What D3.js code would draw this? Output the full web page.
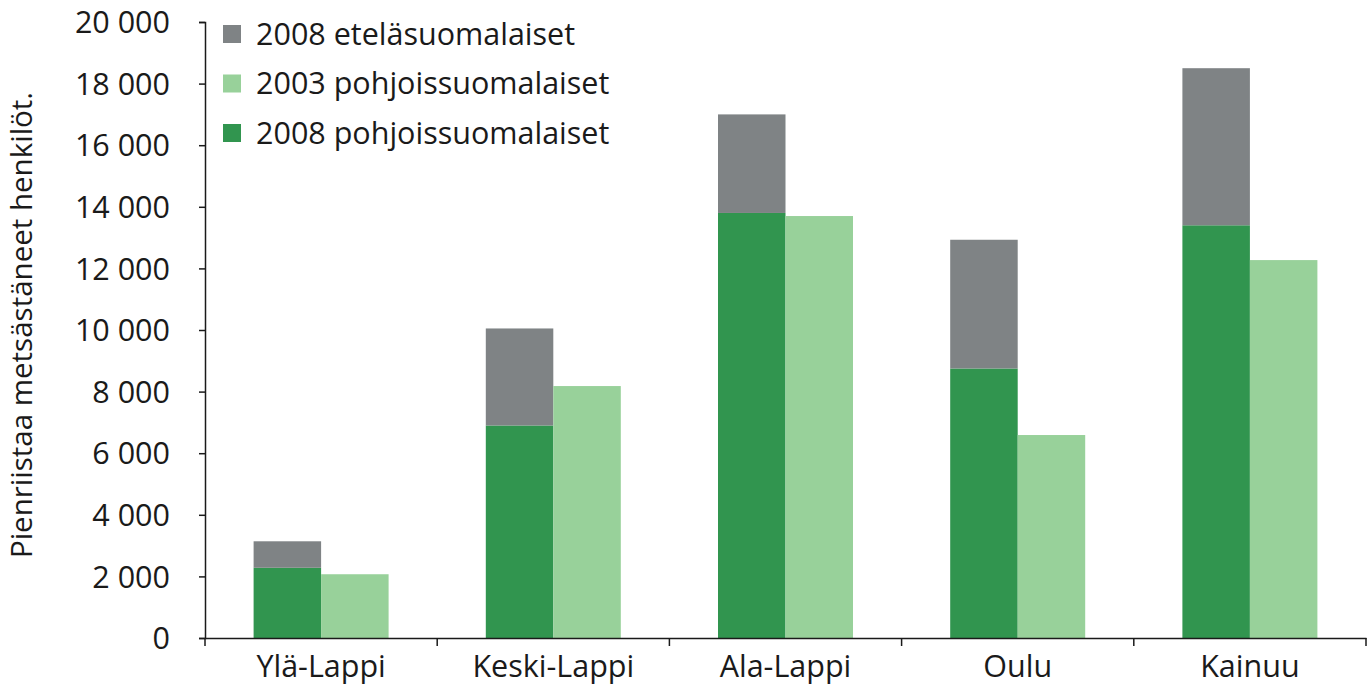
<!DOCTYPE html>
<html><head><meta charset="utf-8">
<script src="https://cdn.jsdelivr.net/npm/d3@7"></script>
<style>body{margin:0;background:#fff}svg text{font-family:"Open Sans",sans-serif;fill:#1a1a1a}</style>
</head><body>
<svg id="c" width="1369" height="687"></svg>
<script>
const categories = ["Ylä-Lappi","Keski-Lappi","Ala-Lappi","Oulu","Kainuu"];
const north2008 = [2280, 6900, 13800, 8750, 13400];
const south2008 = [860, 3150, 3200, 4180, 5100];
const north2003 = [2070, 8180, 13700, 6590, 12270];
const yTicks = [0,2000,4000,6000,8000,10000,12000,14000,16000,18000,20000];
const seriesNames = ["2008 eteläsuomalaiset","2003 pohjoissuomalaiset","2008 pohjoissuomalaiset"];
const colors = {south:"#7f8385", n2003:"#98d19a", n2008:"#31954f"};
const yTitle = "Pienriistaa metsästäneet henkilöt.";

const svg = d3.select("#c");
const L=205, R=1366, T=22, B=638;
const x = d3.scaleBand().domain(categories).range([L,R]);
const y = d3.scaleLinear().domain([0,20000]).range([B,T]);
const bw = 67.5;
const fmt = v => d3.format(",")(v).replace(/,/g," ");

const g = svg.append("g");
categories.forEach((c,i)=>{
  const cx = x(c)+x.bandwidth()/2;
  g.append("rect").attr("x",cx-bw).attr("width",bw).attr("y",y(north2008[i])).attr("height",B-y(north2008[i])).attr("fill",colors.n2008);
  g.append("rect").attr("x",cx-bw).attr("width",bw).attr("y",y(north2008[i]+south2008[i])).attr("height",y(north2008[i])-y(north2008[i]+south2008[i])).attr("fill",colors.south);
  g.append("rect").attr("x",cx).attr("width",bw).attr("y",y(north2003[i])).attr("height",B-y(north2003[i])).attr("fill",colors.n2003);
});

// y axis
const ya = svg.append("g").attr("transform",`translate(${L},0)`)
  .call(d3.axisLeft(y).tickValues(yTicks).tickFormat(fmt).tickSize(6).tickSizeOuter(6));
ya.selectAll("path,line").attr("stroke","#1a1a1a").attr("stroke-width",1.5);
ya.selectAll("text").attr("font-size",30.5).attr("x",-35).attr("dy","0.35em").style("font-family","'Open Sans',sans-serif").attr("fill","#1a1a1a");

// x axis
const xa = svg.append("g").attr("transform",`translate(0,${B})`)
  .call(d3.axisBottom(x).tickSize(0).tickSizeOuter(0));
xa.select("path").attr("stroke","#1a1a1a").attr("stroke-width",1.5);
xa.selectAll("text").attr("font-size",30.5).attr("y",28).attr("dy","0.35em").style("font-family","'Open Sans',sans-serif").attr("fill","#1a1a1a");
const bounds = categories.map(c=>x(c)).concat([R]);
svg.append("g").selectAll("line").data(bounds).join("line")
  .attr("x1",d=>d).attr("x2",d=>d).attr("y1",B).attr("y2",B+8).attr("stroke","#1a1a1a").attr("stroke-width",1.5);

// y title
svg.append("text").attr("transform","translate(22,325) rotate(-90)").attr("text-anchor","middle")
  .attr("font-size",29.5).attr("dy","0.35em").text(yTitle);

// legend
const leg = [{n:seriesNames[0],c:colors.south},{n:seriesNames[1],c:colors.n2003},{n:seriesNames[2],c:colors.n2008}];
leg.forEach((d,i)=>{
  const cy = 34 + i*49.5;
  svg.append("rect").attr("x",223).attr("y",cy-9).attr("width",18).attr("height",18).attr("fill",d.c);
  svg.append("text").attr("x",256).attr("y",cy).attr("dy","0.35em").attr("font-size",30.5).text(d.n);
});
</script>
</body></html>
